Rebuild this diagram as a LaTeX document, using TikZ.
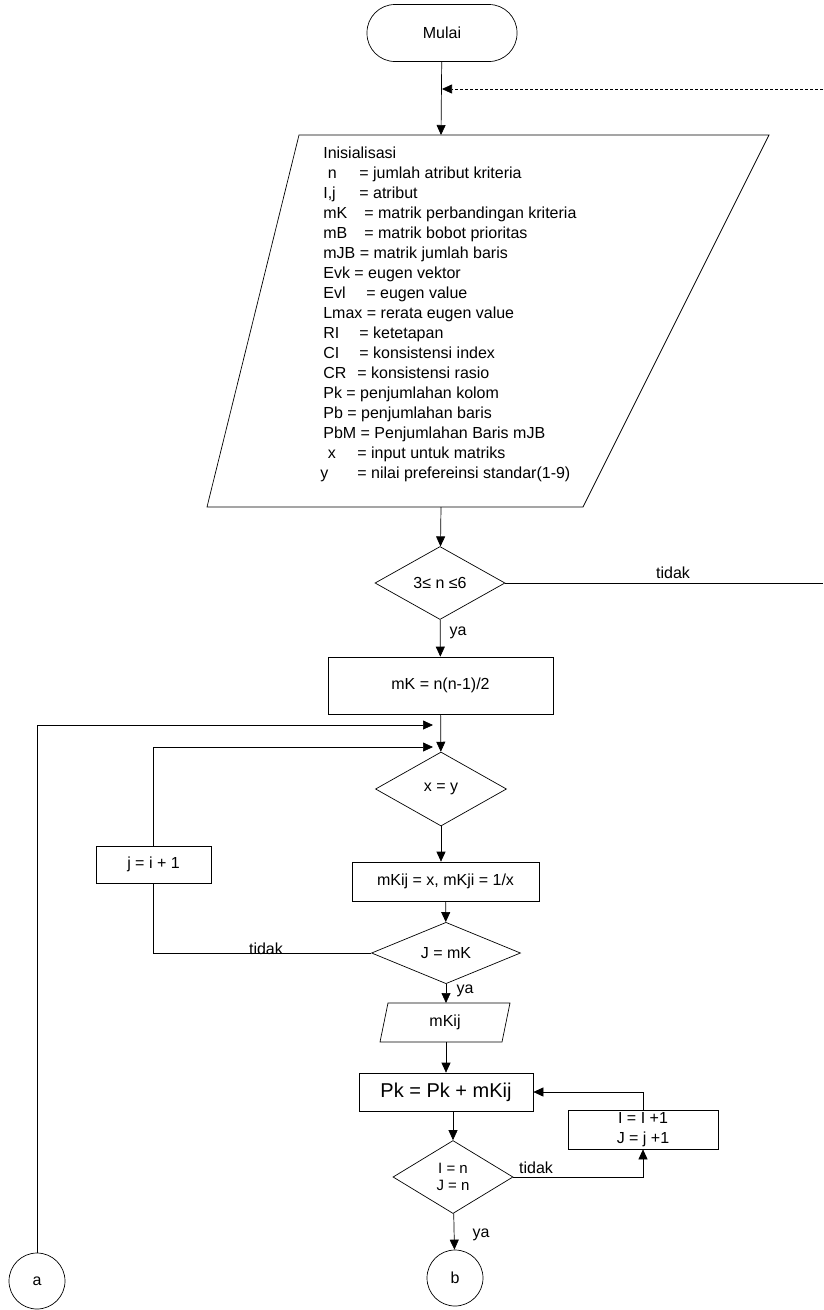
\documentclass[tikz,border=0pt]{standalone}
\usepackage{fontspec}
\setmainfont{Liberation Sans}
\usetikzlibrary{arrows.meta,shapes.geometric}

\begin{document}
\begin{tikzpicture}[x=1pt,y=-1pt,line width=0.7pt,>={Triangle[length=10pt,width=9pt]},
   font=\fontsize{16}{20}\selectfont,
   mulai/.style={draw,rectangle,rounded corners=28pt,minimum width=150pt,minimum height=57pt},
   proses/.style={draw,rectangle,inner sep=2pt},
   pilih/.style={draw,diamond,inner sep=0pt},
   sambung/.style={draw,circle,inner sep=0pt,minimum size=56pt},
   ket/.style={inner sep=0pt}]
   \useasboundingbox (0,0) rectangle (823,1310);
   \fill[white] (0,0) rectangle (823,1310);

   \node[mulai] (start) at (442,33) {Mulai};
   \coordinate (balik) at (823,89);
   \coordinate (initTop) at (441,135);
   \coordinate (initBot) at (441,507);
   \draw (299,135) -- (769,135) -- (583,507) -- (207,507) -- cycle;
   \node[ket,align=left,anchor=north west] (init) at (323,147) {Inisialisasi\\
      \makebox[36pt][l]{\ n}= jumlah atribut kriteria\\
      \makebox[36pt][l]{I,j}= atribut\\
      \makebox[41pt][l]{mK}= matrik perbandingan kriteria\\
      \makebox[41pt][l]{mB}= matrik bobot prioritas\\
      mJB = matrik jumlah baris\\
      Evk = eugen vektor\\
      \makebox[43pt][l]{Evl}= eugen value\\
      Lmax = rerata eugen value\\
      \makebox[36pt][l]{RI}= ketetapan\\
      \makebox[36pt][l]{CI}= konsistensi index\\
      \makebox[34pt][l]{CR}= konsistensi rasio\\
      Pk = penjumlahan kolom\\
      Pb = penjumlahan baris\\
      PbM = Penjumlahan Baris mJB\\
      \makebox[34pt][l]{\ x}= input untuk matriks\\
      \hspace*{-3pt}\makebox[37pt][l]{y}= nilai prefereinsi standar(1-9)};

   \node[pilih] (syarat) [minimum width=130pt,minimum height=73pt] at (440,583) {3≤ n ≤6};
   \coordinate (keluar) at (823,583);
   \node[proses] (mk) [minimum width=225pt,minimum height=57pt] at (440.5,685.5) {mK = n(n-1)/2};
   \node[pilih] (xy) [minimum width=131pt,minimum height=74pt] at (441,789) {x = y};
   \coordinate (masukA) at (433,725);
   \coordinate (masukJ) at (433,747);
   \node[proses] (jbox) [minimum width=115pt,minimum height=37pt] at (153.5,864.5) {j = i + 1};
   \node[proses] (mkij) [minimum width=187pt,minimum height=39pt] at (445.5,881.5) {mKij = x, mKji = 1/x};
   \node[pilih] (jmk) [minimum width=149pt,minimum height=46pt] at (446,953) {J = mK};
   \coordinate (ioTop) at (446,1003);
   \coordinate (ioBot) at (446,1042);
   \draw (388,1003) -- (510,1003) -- (502,1042) -- (380,1042) -- cycle;
   \node[ket] (out) at (445,1022.5) {mKij};
   \node[proses] (pk) [minimum width=174pt,minimum height=38pt,font=\fontsize{20}{24}\selectfont] at (446,1092) {Pk = Pk + mKij};
   \node[proses] (ibox) [minimum width=150pt,minimum height=39pt,align=center] at (643,1129.5) {I = I +1\\J = j +1};
   \node[pilih] (inq) [minimum width=120pt,minimum height=73pt,align=center,font=\fontsize{15}{17}\selectfont] at (453,1177) {I = n\\J = n};
   \node[sambung] (a) at (37,1281) {a};
   \node[sambung] (b) at (455,1278) {b};

   \node[ket] (tidak1) [anchor=base] at (673,578) {tidak};
   \node[ket] (ya1) at (458,633) {ya};
   \node[ket] (tidak2) [anchor=base] at (266,954) {tidak};
   \node[ket] (ya2) at (465,991) {ya};
   \node[ket] (tidak3) [anchor=base] at (536,1173) {tidak};
   \node[ket] (ya3) at (481,1235) {ya};

   \path[->]
        (start) edge (initTop)
        (balik) edge[densely dashed] (start.south |- balik)
        (initBot) edge (syarat)
        (syarat) edge (mk)
        (mk) edge (xy)
        (xy.south) edge (xy.south |- mkij.north)
        (mkij) edge (jmk)
        (jmk) edge (ioTop)
        (ioBot) edge (pk)
        (pk.south -| inq.north) edge (inq)
        (inq) edge (b)
        ;
   \draw (syarat.east) -- (keluar);
   \draw[->] (a.north) |- (masukA);
   \draw[->] (jbox.north) |- (masukJ);
   \draw (jmk.west) -| (jbox.south);
   \draw[->] (ibox.north) |- (pk.east);
   \draw[->] (inq.east) -| (ibox.south);
\end{tikzpicture}
\end{document}
